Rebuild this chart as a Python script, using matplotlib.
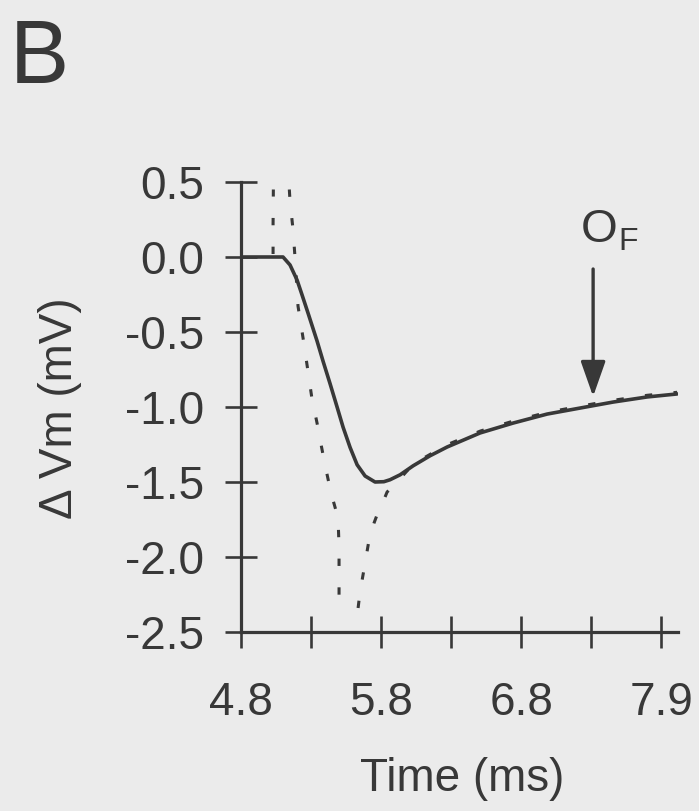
import matplotlib
matplotlib.use("Agg")
import matplotlib.pyplot as plt

# ---- data ----
solid_t = [4.80, 5.10, 5.15, 5.20, 5.236, 5.279, 5.343, 5.386, 5.436, 5.486, 5.529,
           5.579, 5.629, 5.686, 5.757, 5.82, 5.864, 5.936, 6.029, 6.15, 6.271, 6.507,
           6.743, 6.986, 7.221, 7.457, 7.70, 7.914]
solid_v = [0.0, 0.0, -0.053, -0.153, -0.253, -0.375, -0.56, -0.695, -0.845, -1.0, -1.135,
           -1.27, -1.385, -1.46, -1.50, -1.498, -1.485, -1.452, -1.392, -1.325, -1.267,
           -1.173, -1.107, -1.047, -1.007, -0.967, -0.933, -0.913]

fitA_t = [5.029, 5.029, 5.031]
fitA_v = [0.02, 0.22, 0.45]

fitB_t = [5.145, 5.15, 5.171, 5.186, 5.207, 5.243, 5.279, 5.307, 5.343, 5.371, 5.40,
          5.429, 5.457, 5.493, 5.50, 5.50, 5.50]
fitB_v = [0.45, 0.373, 0.187, -0.007, -0.327, -0.54, -0.767, -0.947, -1.107, -1.247,
          -1.387, -1.513, -1.62, -1.74, -1.933, -2.113, -2.33]

fitC_t = [5.636, 5.65, 5.686, 5.714, 5.75, 5.779, 5.814, 5.843, 5.914, 6.03, 6.27,
          6.51, 6.74, 6.99, 7.22, 7.46, 7.70, 7.914]
fitC_v = [-2.34, -2.233, -2.04, -1.887, -1.773, -1.70, -1.633, -1.567, -1.50, -1.38,
          -1.252, -1.16, -1.095, -1.035, -0.995, -0.955, -0.922, -0.902]

xticks = [4.8, 5.3, 5.8, 6.3, 6.8, 7.3, 7.8]
xticklabels = ["4.8", "", "5.8", "", "6.8", "", "7.9"]
yticks = [0.5, 0.0, -0.5, -1.0, -1.5, -2.0, -2.5]
yticklabels = ["0.5", "0.0", "-0.5", "-1.0", "-1.5", "-2.0", "-2.5"]
arrow_t = 7.314
arrow_top, arrow_tip = -0.08, -0.93

# ---- style ----
ink = "#383838"
bg = "#ebebeb"
plt.rcParams["font.family"] = ["Liberation Sans", "DejaVu Sans"]

W, H = 699, 811
fig = plt.figure(figsize=(W / 100, H / 100), dpi=100, facecolor=bg)
ax = fig.add_axes([241 / W, 1 - 632 / H, (678 - 241) / W, (632 - 182) / H])
ax.set_facecolor(bg)

ax.plot(solid_t, solid_v, color=ink, lw=2.6, solid_capstyle="round",
        solid_joinstyle="round", zorder=3)
dot = (0, (2.4, 7.0))
for t, v in [(fitA_t, fitA_v), (fitB_t, fitB_v), (fitC_t, fitC_v)]:
    ax.plot(t, v, color=ink, lw=2.2, linestyle=dot, zorder=2)

ax.set_xlim(4.8, 7.92)
ax.set_ylim(-2.5, 0.5)

for s in ["top", "right"]:
    ax.spines[s].set_visible(False)
for s in ["left", "bottom"]:
    ax.spines[s].set_color(ink)
    ax.spines[s].set_linewidth(2.3)

ax.set_xticks(xticks)
ax.set_xticklabels(xticklabels)
ax.set_yticks(yticks)
ax.set_yticklabels(yticklabels)
ax.tick_params(axis="both", direction="inout", length=23, width=1.9, color=ink,
               labelcolor=ink, labelsize=33)
ax.tick_params(axis="y", pad=15)
ax.tick_params(axis="x", pad=24)

ax.set_xlabel("Time (ms)", fontsize=33, color=ink)
ax.xaxis.set_label_coords((462 - 241) / 437, (632 - 757) / 450)
ax.set_ylabel("\u0394 Vm (mV)", fontsize=33, color=ink)
ax.yaxis.set_label_coords((82 - 241) / 437, (632 - 408) / 450)

ax.annotate("", xy=(arrow_t, arrow_tip), xytext=(arrow_t, arrow_top),
            arrowprops=dict(arrowstyle="-|>,head_length=1.08,head_width=0.38",
                            mutation_scale=20, lw=2.4, color=ink,
                            shrinkA=0, shrinkB=0))

fig.text(581 / W, 1 - 242 / H, "O", fontsize=34, color=ink, va="baseline", ha="left")
fig.text(618 / W, 1 - 250 / H, "F", fontsize=23, color=ink, va="baseline", ha="left")
fig.text(10 / W, 1 - 83 / H, "B", fontsize=64, color=ink, va="baseline", ha="left")

fig.savefig("out.png", dpi=100, facecolor=bg)
